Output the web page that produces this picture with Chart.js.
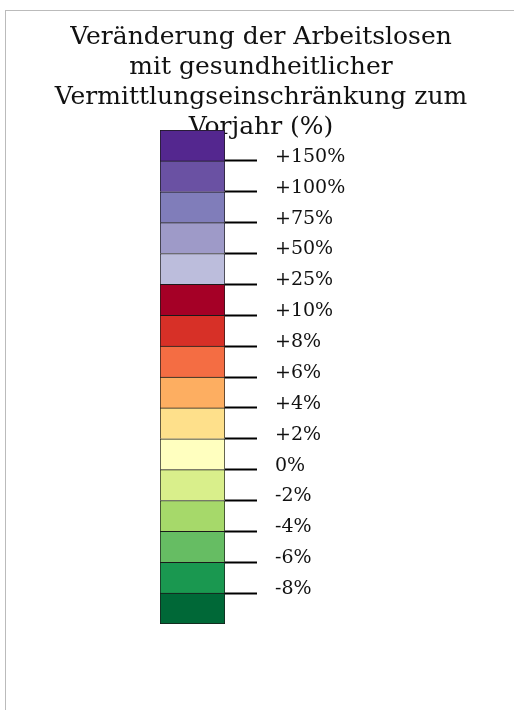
<!DOCTYPE html>
<html>
<head>
<meta charset="utf-8">
<script src="https://cdn.jsdelivr.net/npm/chart.js@4"></script>
<style>
  body { margin: 0; background: #fff; }
  #rahmen { position: absolute; left: 5px; top: 10px; width: 600px; height: 800px; border: 1px solid #bbb; }
  #wrap { position: absolute; left: 0; top: 0; width: 514px; height: 710px; }
</style>
</head>
<body>
<div id="rahmen"></div>
<div id="wrap"><canvas id="Chart" width="514" height="710"></canvas></div>
<script>
// Titel
let titelZeilen = ['Veränderung der Arbeitslosen', 'mit gesundheitlicher', 'Vermittlungseinschränkung zum', 'Vorjahr (%)'];
// Klassen von unten nach oben
let klassenFarben = ['#006837', '#1a9850', '#66bd63', '#a6d96a', '#d9ef8b', '#ffffbf', '#fee08b', '#fdae61',
  '#f46d43', '#d73027', '#a50026', '#bcbddc', '#9e9ac8', '#807dba', '#6a51a3', '#54278f'];
let klassenWerte = [1, 1, 1, 1, 1, 1, 1, 1, 1, 1, 1, 1, 1, 1, 1, 1];
// Grenzen zwischen den Klassen (von unten)
let grenzWerte = [1, 2, 3, 4, 5, 6, 7, 8, 9, 10, 11, 12, 13, 14, 15];
let grenzLabels = ['-8%', '-6%', '-4%', '-2%', '0%', '+2%', '+4%', '+6%', '+8%', '+10%', '+25%', '+50%', '+75%', '+100%', '+150%'];

let ctx = document.getElementById('Chart');

let datasets = klassenWerte.map(function (v, i) {
  return {
    label: grenzLabels[i] || '',
    data: [v],
    yAxisID: 'y',
    backgroundColor: klassenFarben[i],
    borderColor: '#1a1a1a',
    borderWidth: i === 0 ? { top: 1, left: 1, right: 1, bottom: 1 } : { top: 1, left: 1, right: 1, bottom: 0 },
    borderSkipped: false,
    barPercentage: 1,
    categoryPercentage: 1
  };
});

let config = {
  type: 'bar',
  data: { labels: [''], datasets: datasets },
  options: {
    responsive: false,
    animation: false,
    layout: { padding: { left: 8, right: 0, top: 0, bottom: 86 } },
    plugins: {
      legend: { display: false },
      tooltip: { enabled: false },
      title: {
        display: true,
        text: titelZeilen,
        color: '#111',
        font: { family: 'DejaVu Serif', size: 25, weight: 'normal', lineHeight: '30px' },
        padding: { top: 22, bottom: -12 }
      }
    },
    scales: {
      x: { display: false, stacked: true },
      y: {
        type: 'linear', position: 'right', stacked: true, min: 0, max: 16,
        afterBuildTicks: function (s) { s.ticks = grenzWerte.map(function (v) { return { value: v }; }); },
        afterFit: function (s) { s.width = 289; s.paddingTop = 0; s.paddingBottom = 0; },
        border: { display: false },
        grid: { drawOnChartArea: false, drawTicks: true, tickLength: 32, tickColor: '#000', tickWidth: 2 },
        ticks: {
          autoSkip: false, padding: 18, labelOffset: -4, color: '#111',
          font: { family: 'DejaVu Serif', size: 19 },
          callback: function (v) { return grenzLabels[grenzWerte.indexOf(v)]; }
        }
      },
      links: {
        type: 'linear', position: 'left', display: true, min: 0, max: 1,
        grid: { display: false }, ticks: { display: false }, border: { display: false },
        afterFit: function (s) { s.width = 152; s.paddingTop = 0; s.paddingBottom = 0; }
      }
    }
  }
};
let chart = new Chart(ctx, config);
</script>
</body>
</html>
